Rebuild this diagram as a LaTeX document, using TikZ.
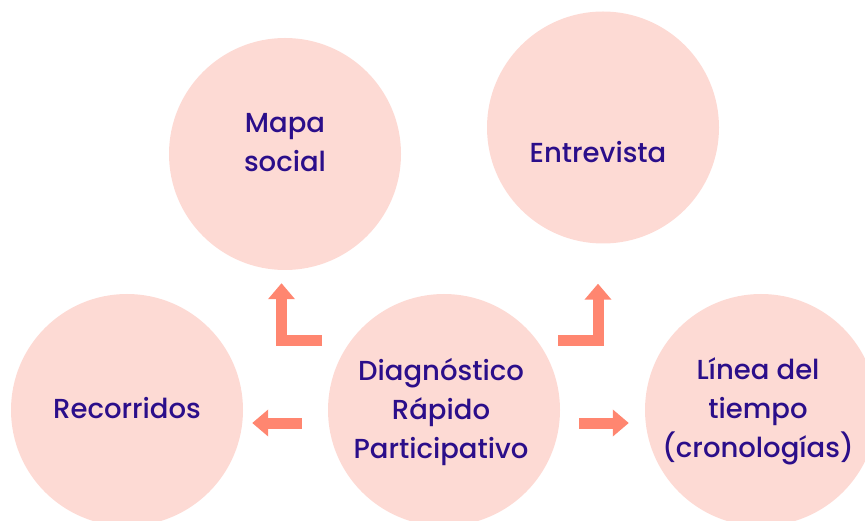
\documentclass[tikz,border=0pt]{standalone}
\usepackage{fontspec}
\setmainfont{Poppins}[UprightFont={* Medium}]
\usetikzlibrary{arrows.meta,calc}
\definecolor{circlepink}{HTML}{FDDAD4}
\definecolor{arrowsalmon}{HTML}{FF8670}
\definecolor{textindigo}{HTML}{2B0E8A}
\begin{document}
\begin{tikzpicture}[x=1pt,y=-1pt]
\useasboundingbox (0,0) rectangle (865,521);
\begin{scope}[every node/.style={circle, fill=circlepink, draw=none, inner sep=0pt, minimum size=232pt}]
    \node (mapa) at (285,154) {};
    \node (entr) at (603,127.5) {};
    \node (rec) at (127,410) {};
    \node (diag) at (444,410) {};
    \node (lin) at (761,410) {};
\end{scope}
\begin{scope}[every node/.style={align=center, text=textindigo, font=\fontsize{27.5}{39}\selectfont}]
    \node (mapatxt) at (285,143) {Mapa\\social};
    \node (entrtxt) at (598,152) {Entrevista};
    \node (rectxt) at (127,408) {Recorridos};
    \node (diagtxt) at (441,412) {Diagnóstico\\Rápido\\Participativo};
    \node (lintxt) at (758,411) {Línea del\\tiempo\\(cronologías)};
\end{scope}
\coordinate (elbowL) at (322,341);
\coordinate (elbowR) at (558,341);
\begin{scope}[every path/.style={draw=arrowsalmon, line width=11pt, line join=miter, -{Triangle[width=26pt,length=16pt]}}]
    \path (elbowL) -| ($(mapa.south)+(-3.5,13)$);
    \path (elbowR) -| ($(entr.south)+(-5,40)$);
    \path ($(diag.west)+(-26,13)$) -- ($(rec.east)+(9,13)$);
    \path ($(diag.east)+(19,13)$) -- ($(lin.west)+(-16,13)$);
\end{scope}
\end{tikzpicture}
\end{document}
